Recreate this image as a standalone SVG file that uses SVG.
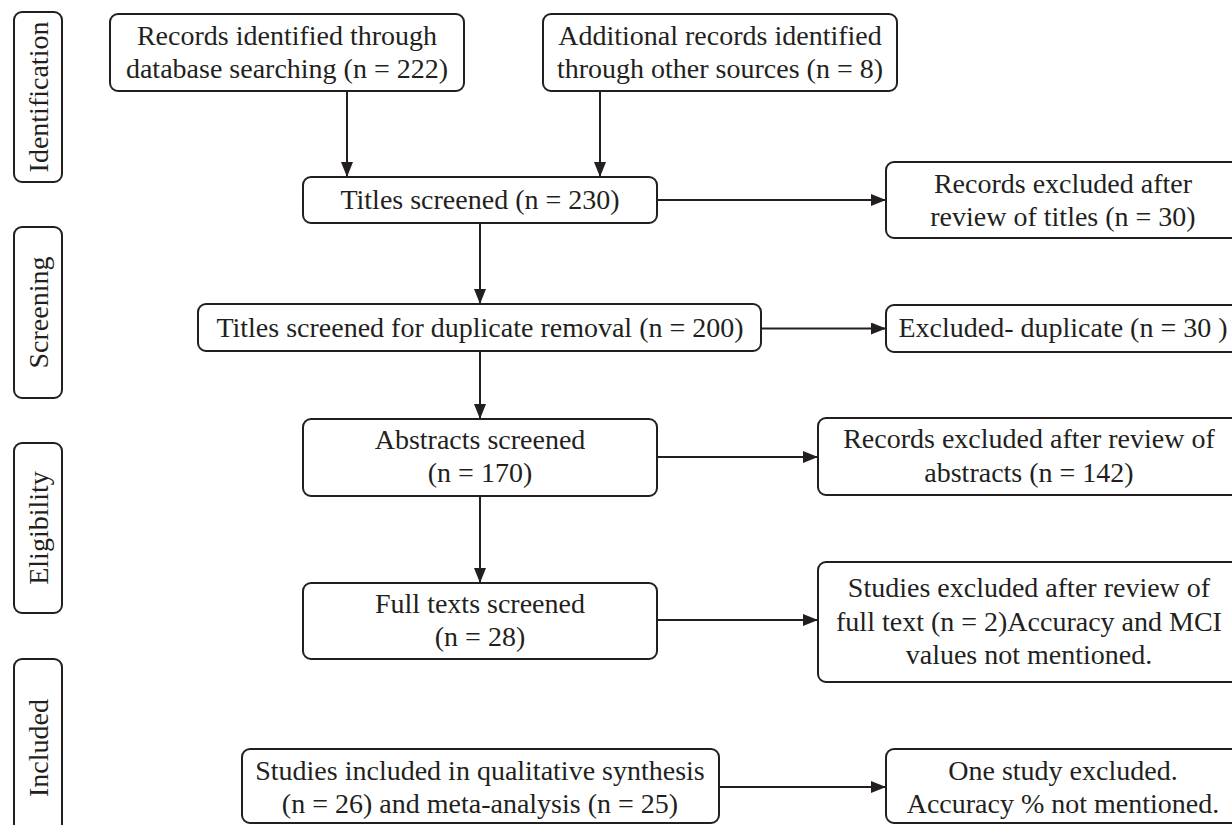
<svg xmlns="http://www.w3.org/2000/svg" width="1232" height="825" viewBox="0 0 1232 825">
<defs>
<marker id="ah" markerUnits="userSpaceOnUse" markerWidth="16" markerHeight="12" refX="15" refY="6" orient="auto">
<path d="M0,0 L15,6 L0,12 Z" fill="#231f20"/>
</marker>
</defs>
<style>
.box{fill:#fff;stroke:#231f20;stroke-width:2}
.t{font-family:"Liberation Serif","Times New Roman",serif;font-size:28px;fill:#231f20;text-anchor:middle}
.ln{stroke:#231f20;stroke-width:2;fill:none;marker-end:url(#ah)}
</style>
<rect width="1232" height="825" fill="#fff"/>
<g id="stage-identification"><rect class="box" x="14" y="12" width="48" height="170" rx="8"/><text class="t" transform="translate(48,97) rotate(-90)">Identification</text></g>
<g id="stage-screening"><rect class="box" x="14" y="227" width="48" height="171" rx="8"/><text class="t" transform="translate(48,312.5) rotate(-90)">Screening</text></g>
<g id="stage-eligibility"><rect class="box" x="14" y="443" width="48" height="170" rx="8"/><text class="t" transform="translate(48,528) rotate(-90)">Eligibility</text></g>
<g id="stage-included"><rect class="box" x="14" y="659" width="48" height="178" rx="8"/><text class="t" transform="translate(48,748) rotate(-90)">Included</text></g>

<g id="connectors">
<line class="ln" x1="347" y1="91" x2="347" y2="177"/>
<line class="ln" x1="600" y1="91" x2="600" y2="177"/>
<line class="ln" x1="657" y1="200" x2="886" y2="200"/>
<line class="ln" x1="480" y1="223" x2="480" y2="304"/>
<line class="ln" x1="761" y1="328.5" x2="886" y2="328.5"/>
<line class="ln" x1="480" y1="351" x2="480" y2="419"/>
<line class="ln" x1="657" y1="457" x2="818" y2="457"/>
<line class="ln" x1="480" y1="496" x2="480" y2="583"/>
<line class="ln" x1="657" y1="620" x2="818" y2="620"/>
<line class="ln" x1="719" y1="787" x2="886" y2="787"/>
</g>

<g id="records-db"><rect class="box" x="110" y="14" width="354" height="77" rx="8"/><text class="t" x="287" y="45">Records identified through</text><text class="t" x="287" y="78">database searching (n = 222)</text></g>
<g id="records-other"><rect class="box" x="543" y="14" width="354" height="77" rx="8"/><text class="t" x="720" y="45">Additional records identified</text><text class="t" x="720" y="78">through other sources (n = 8)</text></g>
<g id="titles-screened"><rect class="box" x="303" y="177" width="354" height="46" rx="8"/><text class="t" x="480" y="209">Titles screened (n = 230)</text></g>
<g id="excluded-titles"><rect class="box" x="886" y="162" width="354" height="76" rx="8"/><text class="t" x="1063" y="193">Records excluded after</text><text class="t" x="1063" y="226">review of titles (n = 30)</text></g>
<g id="dup-removal"><rect class="box" x="198" y="304" width="563" height="47" rx="8"/><text class="t" x="480" y="337">Titles screened for duplicate removal (n = 200)</text></g>
<g id="excluded-dup"><rect class="box" x="886" y="305" width="354" height="47" rx="8"/><text class="t" x="1063" y="337">Excluded- duplicate (n = 30 )</text></g>
<g id="abstracts"><rect class="box" x="303" y="419" width="354" height="77" rx="8"/><text class="t" x="480" y="449">Abstracts screened</text><text class="t" x="480" y="482">(n = 170)</text></g>
<g id="excluded-abstracts"><rect class="box" x="818" y="418" width="422" height="77" rx="8"/><text class="t" x="1029" y="448">Records excluded after review of</text><text class="t" x="1029" y="482">abstracts (n = 142)</text></g>
<g id="full-texts"><rect class="box" x="303" y="583" width="354" height="76" rx="8"/><text class="t" x="480" y="613">Full texts screened</text><text class="t" x="480" y="646">(n = 28)</text></g>
<g id="excluded-full"><rect class="box" x="818" y="562" width="422" height="120" rx="8"/><text class="t" x="1029" y="597">Studies excluded after review of</text><text class="t" x="1029" y="631">full text (n = 2)Accuracy and MCI</text><text class="t" x="1029" y="664">values not mentioned.</text></g>
<g id="included"><rect class="box" x="242" y="749" width="477" height="74" rx="8"/><text class="t" x="480" y="780">Studies included in qualitative synthesis</text><text class="t" x="480" y="813">(n = 26) and meta-analysis (n = 25)</text></g>
<g id="excluded-one"><rect class="box" x="886" y="749" width="354" height="74" rx="8"/><text class="t" x="1063" y="780">One study excluded.</text><text class="t" x="1063" y="813">Accuracy % not mentioned.</text></g>
</svg>
